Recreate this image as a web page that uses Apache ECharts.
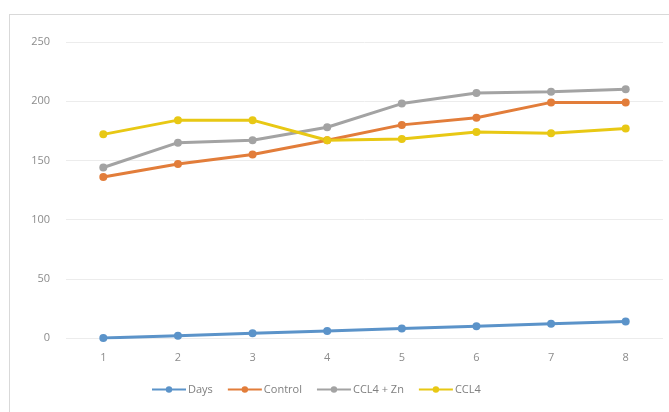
<!DOCTYPE html>
<html>
<head>
<meta charset="utf-8">
<script src="https://cdn.jsdelivr.net/npm/echarts@6/dist/echarts.min.js"></script>
<style>
  html, body { margin: 0; padding: 0; background: #fff; }
  #frame { position: absolute; left: 9px; top: 14px; width: 700px; height: 420px; border: 1px solid #d9d9d9; box-sizing: border-box; }
  #main { position: absolute; left: 0; top: 0; width: 669px; height: 412px; }
</style>
</head>
<body>
<div id="frame"></div>
<div id="main"></div>
<script>
  var myChart = echarts.init(document.getElementById('main'));

  let categories = ['1', '2', '3', '4', '5', '6', '7', '8'];
  let days    = [0, 2, 4, 6, 8, 10, 12, 14];
  let control = [136, 147, 155, 167, 180, 186, 199, 199];
  let cclZn   = [144, 165, 167, 178, 198, 207, 208, 210];
  let ccl4    = [172, 184, 184, 167, 168, 174, 173, 177];
  let yTicks  = [0, 50, 100, 150, 200, 250];

  function line(name, data, color) {
    return {
      name: name,
      type: 'line',
      data: data,
      symbol: 'circle',
      symbolSize: 8,
      lineStyle: { width: 3, color: color },
      itemStyle: { color: color },
      emphasis: { disabled: true }
    };
  }

  var option = {
    animation: false,
    textStyle: { fontFamily: 'Open Sans, sans-serif' },
    legend: {
      left: 146,
      top: 379,
      itemWidth: 34,
      itemHeight: 8,
      itemGap: 14,
      textStyle: { color: '#7f7f7f', fontSize: 11, padding: [0, 0, 0, -3] },
      data: ['Days', 'Control', 'CCL4 + Zn', 'CCL4']
    },
    grid: { left: 66, right: 6, top: 42, bottom: 74 },
    xAxis: {
      type: 'category',
      data: categories,
      boundaryGap: true,
      axisLine: { show: false },
      axisTick: { show: false },
      axisLabel: { color: '#8c8c8c', fontSize: 11, margin: 14 }
    },
    yAxis: {
      type: 'value',
      min: yTicks[0],
      max: yTicks[yTicks.length - 1],
      interval: 50,
      axisLine: { show: false },
      axisTick: { show: false },
      axisLabel: { color: '#8c8c8c', fontSize: 11, margin: 16 },
      splitLine: { lineStyle: { color: '#ececec', width: 1 } }
    },
    series: [
      line('Days', days, '#5b93c9'),
      line('Control', control, '#e27d3a'),
      line('CCL4 + Zn', cclZn, '#a3a3a3'),
      line('CCL4', ccl4, '#e8c814')
    ]
  };

  myChart.setOption(option);
</script>
</body>
</html>
